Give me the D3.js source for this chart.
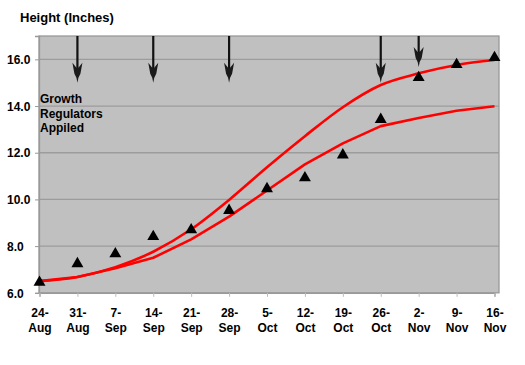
<!DOCTYPE html>
<html>
<head>
<meta charset="utf-8">
<script src="https://cdn.jsdelivr.net/npm/d3@7"></script>
<style>
  html, body { margin: 0; padding: 0; background: #fff; }
  svg { display: block; }
  text { font-family: "Liberation Sans", Arial, sans-serif; font-weight: bold; fill: #000; }
</style>
</head>
<body>
<svg id="chart" width="525" height="365"></svg>
<script>
const categories = ["24-Aug","31-Aug","7-Sep","14-Sep","21-Sep","28-Sep","5-Oct","12-Oct","19-Oct","26-Oct","2-Nov","9-Nov","16-Nov"];
const observed = [6.48, 7.28, 7.70, 8.44, 8.73, 9.56, 10.49, 10.96, 11.94, 13.46, 15.25, 15.81, 16.11];
const upperCurve = [6.5, 6.68, 7.1, 7.76, 8.72, 9.98, 11.38, 12.71, 13.95, 14.9, 15.4, 15.76, 15.97];
const lowerCurve = [6.5, 6.68, 7.05, 7.5, 8.29, 9.26, 10.38, 11.5, 12.4, 13.14, 13.49, 13.8, 13.99];
const arrowCats = ["31-Aug", "14-Sep", "28-Sep", "26-Oct", "2-Nov"];
const arrowTips = [15.0, 15.0, 15.0, 15.0, 15.67];
const yTicks = [6, 8, 10, 12, 14, 16];
const yDomain = [6, 17];
const title = "Height (Inches)";
const noteLines = ["Growth", "Regulators", "Appiled"];

const svg = d3.select("#chart");
const plot = { left: 39, right: 499, top: 36, bottom: 292.8 };

const x = d3.scalePoint().domain(categories).range([39.5, 494.5]);
const y = d3.scaleLinear().domain(yDomain).range([plot.bottom, plot.top]);

// plot background
svg.append("rect")
  .attr("x", plot.left).attr("y", plot.top)
  .attr("width", plot.right - plot.left).attr("height", plot.bottom - plot.top)
  .attr("fill", "#c0c0c0");

// gridlines
svg.append("g").selectAll("line").data(yTicks.filter(d => d > 6)).join("line")
  .attr("x1", plot.left).attr("x2", plot.right)
  .attr("y1", d => y(d)).attr("y2", d => y(d))
  .attr("stroke", "#9c9c9c").attr("stroke-width", 1.3);

// border
svg.append("rect")
  .attr("x", plot.left).attr("y", plot.top)
  .attr("width", plot.right - plot.left).attr("height", plot.bottom - plot.top)
  .attr("fill", "none").attr("stroke", "#999").attr("stroke-width", 1.3);

// y axis ticks + labels
const yAxis = d3.axisLeft(y).tickValues(yTicks).tickSize(4).tickFormat(d3.format(".1f"));
const yg = svg.append("g").attr("transform", `translate(${plot.left},0)`).call(yAxis);
yg.select(".domain").attr("stroke", "#999").attr("stroke-width", 1.3);
yg.selectAll(".tick line").attr("stroke", "#999");
yg.selectAll(".tick text")
  .attr("x", 7 - plot.left).attr("text-anchor", "start")
  .attr("font-size", 12).attr("font-family", "Liberation Sans, Arial, sans-serif")
  .attr("font-weight", "bold").attr("fill", "#000").attr("dy", "0.35em");

// x axis ticks + labels
const xAxis = d3.axisBottom(x).tickSize(4).tickFormat("");
const xg = svg.append("g").attr("transform", `translate(0,${plot.bottom})`).call(xAxis);
xg.select(".domain").attr("stroke", "#999").attr("stroke-width", 1.3);
xg.selectAll(".tick line").attr("stroke", "#bbb");
xg.selectAll(".tick").each(function(d) {
  const parts = d.split("-");
  const t = d3.select(this).append("text")
    .attr("text-anchor", "middle").attr("font-size", 12)
    .attr("font-family", "Liberation Sans, Arial, sans-serif")
    .attr("font-weight", "bold").attr("fill", "#000");
  t.append("tspan").attr("x", 0).attr("y", 24).text(parts[0] + "-");
  t.append("tspan").attr("x", 0).attr("y", 39.5).text(parts[1]);
});

// curves
const lineGen = (curve) => d3.line()
  .x((d, i) => x(categories[i])).y(d => y(d)).curve(curve);

svg.append("path").datum(upperCurve)
  .attr("d", lineGen(d3.curveMonotoneX))
  .attr("fill", "none").attr("stroke", "#ff0000").attr("stroke-width", 2.6);
svg.append("path").datum(lowerCurve)
  .attr("d", lineGen(d3.curveLinear))
  .attr("fill", "none").attr("stroke", "#ff0000").attr("stroke-width", 2.6)
  .attr("stroke-linejoin", "round");

// triangles
const tri = d3.symbol().type(d3.symbolTriangle).size(62);
svg.append("g").selectAll("path").data(observed).join("path")
  .attr("transform", (d, i) => `translate(${x(categories[i])},${y(d) + 0.8})`)
  .attr("d", tri).attr("fill", "#000");

// arrows
const ag = svg.append("g");
arrowCats.forEach((c, i) => {
  const cx = x(c), tip = y(arrowTips[i]);
  ag.append("line")
    .attr("x1", cx).attr("x2", cx).attr("y1", plot.top).attr("y2", tip - 6)
    .attr("stroke", "#111").attr("stroke-width", 2.2);
  const pts = [
    [cx - 5, tip - 20], [cx - 1, tip - 15], [cx + 1, tip - 15], [cx + 5, tip - 20],
    [cx + 3, tip - 9], [cx + 1, tip - 5], [cx, tip], [cx - 1, tip - 5], [cx - 3, tip - 9]
  ];
  ag.append("polygon").attr("points", pts.map(p => p.join(",")).join(" "))
    .attr("fill", "#1a1a1a");
});

// title
svg.append("text").attr("x", 20).attr("y", 21.5).attr("font-size", 13).text(title);

// note
svg.append("g").selectAll("text").data(noteLines).join("text")
  .attr("x", 40).attr("y", (d, i) => 103 + i * 14.7)
  .attr("font-size", 12).text(d => d);
</script>
</body>
</html>
